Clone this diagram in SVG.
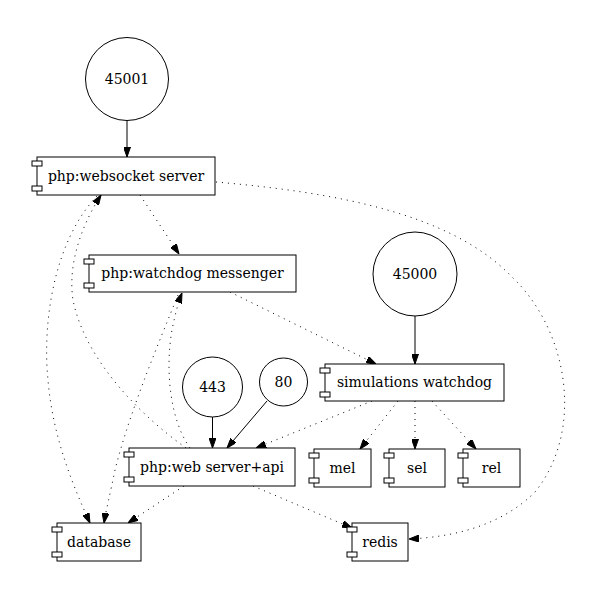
<svg xmlns="http://www.w3.org/2000/svg" width="600" height="598" viewBox="0 0 600 598">
<style>
.n rect.b{fill:#fff;stroke:#000;stroke-width:1}
.n rect.p{fill:#fff;stroke:#000;stroke-width:1}
.n circle{fill:#fff;stroke:#000;stroke-width:1}
.n text{font-family:"DejaVu Serif",serif;font-size:14px;text-anchor:middle;fill:#000}
.e path{fill:none;stroke:#000;stroke-width:1;marker-end:url(#ah)}
.e path.d{stroke-dasharray:1,5}
</style>
<defs>
<marker id="ah" viewBox="0 0 10 7" refX="10" refY="3.5" markerWidth="10" markerHeight="7" markerUnits="userSpaceOnUse" orient="auto">
<path d="M0,0 L10,3.5 L0,7 Z" fill="#000" stroke="#000" stroke-width="1"/>
</marker>
</defs>
<rect width="600" height="598" fill="#fff"/>
<g id="edges" class="e">
<path d="M127,120.5 L127,157"/>
<path class="d" d="M140,195 L179,254"/>
<path class="d" d="M216,182 C330,192 450,212 512,277 C568,330 585,430 535,492 C502,525 455,537 409,539"/>
<path d="M415,316 L415,364"/>
<path class="d" d="M230,292 L376,364"/>
<path class="d" d="M372,401 L256,448"/>
<path class="d" d="M398,401 L360,449"/>
<path class="d" d="M415,401 L415,449"/>
<path class="d" d="M432,401 L476,449"/>
<path d="M212.5,417 L212.5,448"/>
<path d="M267,401 L227,448"/>
<path class="d" d="M184,486 L128,523"/>
<path class="d" d="M253,486 L352,528"/>
<path class="d" d="M97,196 C55,240 42,320 48,380 C53,440 75,490 90,523"/>
<path class="d" d="M186,448 C140,415 85,360 73,300 C67,260 85,220 101,195"/>
<path class="d" d="M178,295 C160,340 130,410 115,470 C110,495 106,510 104,523"/>
<path class="d" d="M190,448 C170,420 165,370 172,330 C175,315 178,303 182,293"/>
</g>
<g id="n45001" class="n"><circle cx="127" cy="79" r="41.5"/><text x="127" y="84">45001</text></g>
<g id="websocket" class="n"><rect class="b" x="37" y="157" width="178" height="38"/><rect class="p" x="32" y="161" width="10" height="5"/><rect class="p" x="32" y="186" width="10" height="5"/><text x="126" y="181">php:websocket server</text></g>
<g id="messenger" class="n"><rect class="b" x="89" y="255" width="207" height="37"/><rect class="p" x="84" y="259" width="10" height="5"/><rect class="p" x="84" y="283" width="10" height="5"/><text x="192.5" y="278">php:watchdog messenger</text></g>
<g id="n45000" class="n"><circle cx="415" cy="274" r="42"/><text x="415" y="279">45000</text></g>
<g id="simwatchdog" class="n"><rect class="b" x="325" y="364" width="179" height="37"/><rect class="p" x="320" y="368" width="10" height="5"/><rect class="p" x="320" y="392" width="10" height="5"/><text x="414.5" y="387">simulations watchdog</text></g>
<g id="n443" class="n"><circle cx="212.5" cy="387" r="30"/><text x="212.5" y="392">443</text></g>
<g id="n80" class="n"><circle cx="283.5" cy="382" r="24"/><text x="283.5" y="387">80</text></g>
<g id="web" class="n"><rect class="b" x="129" y="448" width="166" height="38"/><rect class="p" x="124" y="452" width="10" height="5"/><rect class="p" x="124" y="477" width="10" height="5"/><text x="212" y="472">php:web server+api</text></g>
<g id="mel" class="n"><rect class="b" x="314" y="449" width="57" height="38"/><rect class="p" x="309" y="453" width="10" height="5"/><rect class="p" x="309" y="478" width="10" height="5"/><text x="342.5" y="473">mel</text></g>
<g id="sel" class="n"><rect class="b" x="389" y="449" width="56" height="38"/><rect class="p" x="384" y="453" width="10" height="5"/><rect class="p" x="384" y="478" width="10" height="5"/><text x="417" y="473">sel</text></g>
<g id="rel" class="n"><rect class="b" x="463" y="449" width="57" height="38"/><rect class="p" x="458" y="453" width="10" height="5"/><rect class="p" x="458" y="478" width="10" height="5"/><text x="491.5" y="473">rel</text></g>
<g id="database" class="n"><rect class="b" x="57" y="523" width="84" height="38"/><rect class="p" x="52" y="527" width="10" height="5"/><rect class="p" x="52" y="552" width="10" height="5"/><text x="99" y="547">database</text></g>
<g id="redis" class="n"><rect class="b" x="352" y="523" width="56" height="38"/><rect class="p" x="347" y="527" width="10" height="5"/><rect class="p" x="347" y="552" width="10" height="5"/><text x="380" y="547">redis</text></g>
</svg>
